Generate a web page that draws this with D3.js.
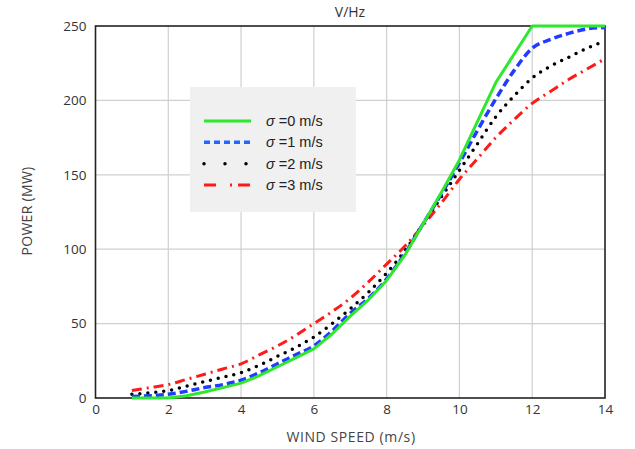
<!DOCTYPE html>
<html><head><meta charset="utf-8">
<script src="https://cdn.jsdelivr.net/npm/d3@7"></script>
<style>body{margin:0;background:#fff}svg{display:block}</style>
</head><body>
<svg id="c" width="635" height="449"></svg>
<script>
const windSpeed = [1,1.5,2,2.5,3,3.5,4,4.5,5,5.5,6,6.5,7,7.5,8,8.5,9,9.5,10,10.5,11,11.5,12,12.5,13,13.5,14];
const sigma0 = [0,0,0,1.5,4,7,10,15,21,27,33,43,55,66,79,96,117,138,160,186,212,231,250,250,250,250,250];
const sigma1 = [1,1.5,2.5,4.5,7,9,12,17,23,29,35,45,57,67,80,97,117,137,158,180,201,220,235,241,245,248,249];
const sigma2 = [2.5,3.5,5,8,11,14,17,22,28,34,41,50,60,71,84,99,117,135,153,171,189,203,215,223,229,235,240];
const sigma3 = [5,7,9,12.5,16,19.5,23,29,35,42,50,58,67,78,90,102,116,131,147,161,175,187,198,206,214,221,228];
const seriesNames = ["0","1","2","3"];
const xTicks = [0,2,4,6,8,10,12,14];
const yTicks = [0,50,100,150,200,250];

const series = [
  {name: seriesNames[0], vals: sigma0, color:"#2de82d", width:3, dash:null, cap:"butt"},
  {name: seriesNames[1], vals: sigma1, color:"#1f3cff", width:3.5, dash:"8,4", cap:"butt"},
  {name: seriesNames[2], vals: sigma2, color:"#000000", width:3.5, dash:"0,8", cap:"round"},
  {name: seriesNames[3], vals: sigma3, color:"#ff1a1a", width:3, dash:"10,5,2,5", cap:"butt"}
];

const svg = d3.select("#c");
const L=95.5, R=605, T=26, B=398;
const x = d3.scaleLinear().domain([0,14]).range([L,R]);
const y = d3.scaleLinear().domain([0,250]).range([B,T]);

// grid
svg.append("g").selectAll("line").data(xTicks.slice(1,-1)).join("line")
  .attr("x1",d=>x(d)).attr("x2",d=>x(d)).attr("y1",T).attr("y2",B)
  .attr("stroke","#cfcfcf").attr("stroke-width",1.2);
svg.append("g").selectAll("line").data(yTicks.slice(1,-1)).join("line")
  .attr("y1",d=>y(d)).attr("y2",d=>y(d)).attr("x1",L).attr("x2",R)
  .attr("stroke","#cfcfcf").attr("stroke-width",1.2);

const font = "'Open Sans', 'DejaVu Sans', sans-serif";
const xAxis = svg.append("g").attr("transform",`translate(0,${B})`)
  .call(d3.axisBottom(x).tickValues(xTicks).tickSize(0).tickPadding(6));
const yAxis = svg.append("g").attr("transform",`translate(${L},0)`)
  .call(d3.axisLeft(y).tickValues(yTicks).tickSize(0).tickPadding(9));
[xAxis,yAxis].forEach(a=>{
  a.select(".domain").remove();
  a.selectAll("text").attr("font-family",font).attr("font-size",13.5).attr("fill","#333");
});

// frame
svg.append("rect").attr("x",L).attr("y",T).attr("width",R-L).attr("height",B-T)
  .attr("fill","none").attr("stroke","#222").attr("stroke-width",1.6);

// lines
svg.append("clipPath").attr("id","clp").append("rect")
  .attr("x",L).attr("y",T-2).attr("width",R-L+2).attr("height",B-T+4);
const line = d3.line().x((d,i)=>x(windSpeed[i])).y(d=>y(d)).curve(d3.curveMonotoneX);
const lineG = d3.line().x((d,i)=>x(windSpeed[i])).y(d=>y(d)).curve(d3.curveLinear);
const gL = svg.append("g").attr("clip-path","url(#clp)");
series.slice().reverse().forEach(s=>{
  gL.append("path").attr("d",(s.name==="0"?lineG:line)(s.vals))
    .attr("fill","none").attr("stroke",s.color).attr("stroke-width",s.width)
    .attr("stroke-dasharray",s.dash).attr("stroke-linecap",s.cap).attr("stroke-linejoin","round");
});

// title
svg.append("text").attr("x",350).attr("y",17).attr("text-anchor","middle")
  .attr("font-family",font).attr("font-size",14).attr("fill","#333").text("V/Hz");
// axis titles
svg.append("text").attr("x",351).attr("y",442).attr("text-anchor","middle")
  .attr("font-family",font).attr("font-size",14).attr("letter-spacing",0.6).attr("fill","#444").text("WIND SPEED (m/s)");
svg.append("text").attr("transform","translate(32,211) rotate(-90)").attr("text-anchor","middle")
  .attr("font-family",font).attr("font-size",14).attr("letter-spacing",0.3).attr("fill","#444").text("POWER (MW)");

// legend
const lg = svg.append("g");
lg.append("rect").attr("x",190).attr("y",87).attr("width",166).attr("height",125).attr("fill","#f0f0f0");
const legY = d3.scalePoint().domain(seriesNames).range([121,185]);
series.forEach(s=>{
  lg.append("line").attr("x1",204).attr("x2",251).attr("y1",legY(s.name)).attr("y2",legY(s.name))
    .attr("stroke", s.name==="1" ? "#2266ff" : s.color).attr("stroke-width",s.width)
    .attr("stroke-dasharray", s.name==="1"?"6,4":(s.name==="2"?"0,21":(s.name==="3"?"12,14,2,6":null)))
    .attr("stroke-linecap", s.cap==="round"?"round":"butt");
  const t = lg.append("text").attr("x",266).attr("y",legY(s.name)+5)
    .attr("font-family","'Liberation Sans', Arial, sans-serif").attr("font-size",14.5).attr("fill","#222");
  t.append("tspan").attr("font-style","italic").text("σ");
  t.append("tspan").text(" =" + s.name + " m/s");
});
</script>
</body></html>
